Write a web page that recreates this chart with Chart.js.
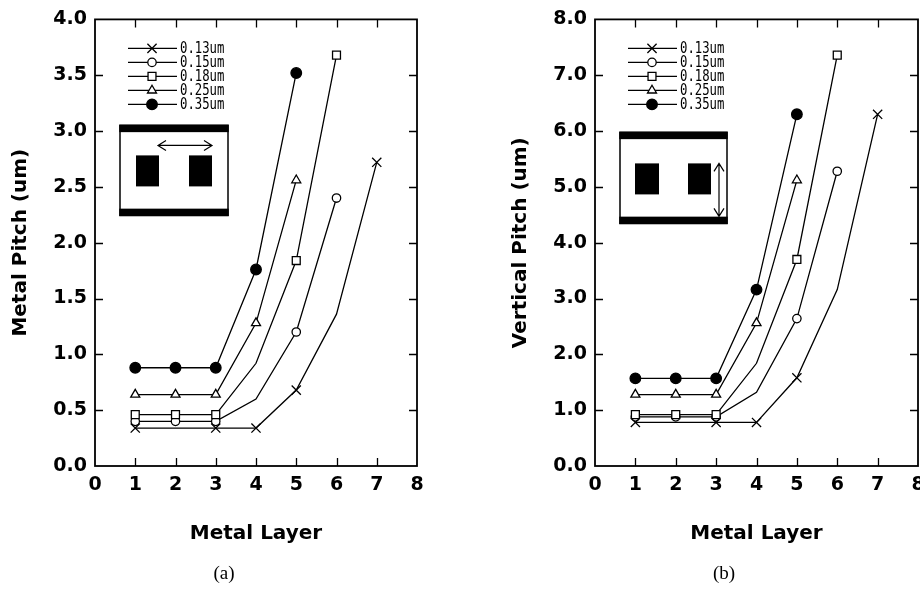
<!DOCTYPE html>
<html>
<head>
<meta charset="utf-8">
<title>Metal / vertical pitch vs metal layer</title>
<script src="https://cdn.jsdelivr.net/npm/chart.js@4.4.0/dist/chart.umd.min.js"></script>
<style>
  html, body { margin: 0; padding: 0; background: #fff; width: 920px; height: 590px; overflow: hidden; }
  .panel { position: absolute; top: 0; height: 590px; }
  #panelA { left: 0; width: 460px; }
  #panelB { left: 460px; width: 480px; }
  .cap { position: absolute; top: 562px; width: 60px; text-align: center;
         font: 19px 'Liberation Serif', 'DejaVu Serif', serif; color: #000; }
</style>
</head>
<body>
<div class="panel" id="panelA"><canvas id="chartA" width="460" height="590"></canvas></div>
<div class="panel" id="panelB"><canvas id="chartB" width="480" height="590"></canvas></div>
<div class="cap" style="left:194px">(a)</div>
<div class="cap" style="left:694px">(b)</div>

<script>
"use strict";

// ---- data ----
const layers = [1, 2, 3, 4, 5, 6, 7];
const sizeLabels = ["0.13um", "0.15um", "0.18um", "0.25um", "0.35um"];

// (a) metal pitch (um)
const pitch013 = [0.34, 0.34, 0.34, 0.34, 0.68, 1.36, 2.72];
const pitch015 = [0.40, 0.40, 0.40, 0.60, 1.20, 2.40];
const pitch018 = [0.46, 0.46, 0.46, 0.92, 1.84, 3.68];
const pitch025 = [0.64, 0.64, 0.64, 1.28, 2.56];
const pitch035 = [0.88, 0.88, 0.88, 1.76, 3.52];

// (b) vertical pitch (um)
const vert013 = [0.78, 0.78, 0.78, 0.78, 1.58, 3.16, 6.30];
const vert015 = [0.88, 0.88, 0.88, 1.32, 2.64, 5.28];
const vert018 = [0.92, 0.92, 0.92, 1.84, 3.70, 7.36];
const vert025 = [1.28, 1.28, 1.28, 2.56, 5.12];
const vert035 = [1.57, 1.57, 1.57, 3.16, 6.30];

// ---- marker styles, one per feature size ----
const MARKS = [
  { style: "crossRot", r: 6.5, fill: "#000", skip: [1, 5] },
  { style: "circle",   r: 4.2, fill: "#fff", skip: [3] },
  { style: "rect",     r: 5.6, fill: "#fff", skip: [3] },
  { style: "triangle", r: 5.2, fill: "#fff", skip: [] },
  { style: "circle",   r: 5.3, fill: "#000", skip: [] }
];

const FONT = "'DejaVu Sans', 'Liberation Sans', sans-serif";

function toPoints(vals) {
  return vals.map((v, i) => ({ x: layers[i], y: v }));
}

function buildDatasets(seriesList) {
  return seriesList.map((vals, i) => {
    const m = MARKS[i];
    return {
      label: sizeLabels[i],
      data: toPoints(vals),
      borderColor: "#000",
      borderWidth: 1.3,
      tension: 0,
      fill: false,
      pointStyle: m.style,
      markRadius: m.r,
      pointRadius: ctx => m.skip.includes(ctx.dataIndex) ? 0 : m.r,
      pointHoverRadius: m.r,
      pointBackgroundColor: m.fill,
      pointBorderColor: "#000",
      pointBorderWidth: 1.3,
      order: i === 2 ? 0 : 1
    };
  });
}

// frame with inward ticks, inset legend and the little cross-section sketch
const decorPlugin = {
  id: "decor",
  afterDatasetsDraw(chart, args, o) {
    const ctx = chart.ctx, a = chart.chartArea;
    const xs = chart.scales.x, ys = chart.scales.y;
    const L = 8;
    ctx.save();
    ctx.strokeStyle = "#000";
    ctx.lineWidth = 1.3;
    ctx.beginPath();
    xs.ticks.forEach(t => {
      const px = Math.round(xs.getPixelForValue(t.value)) + 0.5;
      if (px <= a.left + 2 || px >= a.right - 2) return;
      ctx.moveTo(px, a.bottom); ctx.lineTo(px, a.bottom - L);
      ctx.moveTo(px, a.top); ctx.lineTo(px, a.top + L);
    });
    ys.ticks.forEach(t => {
      const py = Math.round(ys.getPixelForValue(t.value)) + 0.5;
      if (py <= a.top + 2 || py >= a.bottom - 2) return;
      ctx.moveTo(a.left, py); ctx.lineTo(a.left + L, py);
      ctx.moveTo(a.right, py); ctx.lineTo(a.right - L, py);
    });
    ctx.stroke();
    ctx.lineWidth = 1.8;
    ctx.strokeRect(a.left, a.top, a.right - a.left, a.bottom - a.top);
    ctx.restore();

    drawLegend(chart, a);
    drawInset(ctx, a, o.inset);
  }
};

function drawMark(ctx, ds, x, y) {
  ctx.save();
  ctx.fillStyle = ds.pointBackgroundColor;
  ctx.strokeStyle = "#000";
  ctx.lineWidth = ds.pointBorderWidth;
  Chart.helpers.drawPoint(ctx, {
    pointStyle: ds.pointStyle, radius: ds.markRadius, rotation: 0,
    borderWidth: ds.pointBorderWidth
  }, x, y);
  ctx.restore();
}

function drawLegend(chart, a) {
  const ctx = chart.ctx;
  const rows = [29, 43, 57, 71, 85];
  chart.data.datasets.forEach((ds, i) => {
    const y = a.top + rows[i];
    ctx.save();
    ctx.strokeStyle = "#000";
    ctx.lineWidth = 1.3;
    ctx.beginPath();
    ctx.moveTo(a.left + 33, y); ctx.lineTo(a.left + 82, y);
    ctx.stroke();
    ctx.restore();
    drawMark(ctx, ds, a.left + 57, y);
    ctx.save();
    ctx.fillStyle = "#000";
    ctx.font = "15px 'DejaVu Sans Mono', monospace";
    ctx.textBaseline = "middle";
    ctx.translate(a.left + 85, y + 1);
    ctx.scale(0.82, 1);
    ctx.fillText(ds.label, 0, 0);
    ctx.restore();
  });
}

function arrowHead(ctx, x, y, dx, dy) {
  // open V head pointing along (dx, dy)
  const len = 8, spread = 5;
  const px = -dy, py = dx;
  ctx.moveTo(x - dx * len + px * spread, y - dy * len + py * spread);
  ctx.lineTo(x, y);
  ctx.lineTo(x - dx * len - px * spread, y - dy * len - py * spread);
}

function drawInset(ctx, a, s) {
  const x0 = a.left + s.box[0], y0 = a.top + s.box[1], w = s.box[2], h = s.box[3];
  ctx.save();
  ctx.fillStyle = "#fff";
  ctx.fillRect(x0, y0, w, h);
  ctx.strokeStyle = "#000";
  ctx.lineWidth = 1.5;
  ctx.strokeRect(x0, y0, w, h);
  ctx.fillStyle = "#000";
  ctx.fillRect(x0 - 0.75, y0 - 0.75, w + 1.5, s.bar);
  ctx.fillRect(x0 - 0.75, y0 + h - s.bar + 0.75, w + 1.5, s.bar);
  s.blocks.forEach(b => ctx.fillRect(a.left + b[0], a.top + b[1], b[2], b[3]));
  const [x1, y1, x2, y2] = s.arrow.map((v, i) => v + (i % 2 ? a.top : a.left));
  const d = Math.hypot(x2 - x1, y2 - y1), ux = (x2 - x1) / d, uy = (y2 - y1) / d;
  ctx.lineWidth = 1.2;
  ctx.beginPath();
  ctx.moveTo(x1, y1); ctx.lineTo(x2, y2);
  arrowHead(ctx, x2, y2, ux, uy);
  arrowHead(ctx, x1, y1, -ux, -uy);
  ctx.stroke();
  ctx.restore();
}

function makeChart(canvasId, seriesList, cfg) {
  const tickFont = { family: FONT, size: 19, weight: "bold" };
  const titleFont = { family: FONT, size: 20, weight: "bold" };
  return new Chart(document.getElementById(canvasId), {
    type: "line",
    data: { datasets: buildDatasets(seriesList) },
    plugins: [decorPlugin],
    options: {
      responsive: false,
      animation: false,
      events: [],
      layout: { padding: { left: 0, top: 16, right: cfg.padRight, bottom: 0 } },
      plugins: {
        legend: { display: false },
        tooltip: { enabled: false },
        decor: { inset: cfg.inset }
      },
      scales: {
        x: {
          type: "linear", min: 0, max: 8,
          grid: { display: false, drawTicks: false },
          border: { display: false },
          ticks: { stepSize: 1, padding: 8, color: "#000", font: tickFont, autoSkip: false, maxRotation: 0 },
          title: { display: true, text: "Metal Layer", color: "#000", font: titleFont, padding: { top: 0, bottom: 44 } },
          afterFit: s => { s.height = 124; }
        },
        y: {
          type: "linear", min: 0, max: cfg.yMax,
          grid: { display: false, drawTicks: false },
          border: { display: false },
          ticks: { stepSize: cfg.yStep, padding: 8, color: "#000", font: tickFont, callback: v => v.toFixed(1) },
          title: { display: true, text: cfg.yTitle, color: "#000", font: titleFont, padding: { top: cfg.yTitlePad, bottom: 0 } },
          afterFit: s => { s.width = cfg.yWidth; }
        }
      }
    }
  });
}

function boot() {
  Chart.defaults.color = "#000";
  Chart.defaults.font.family = FONT;

  makeChart("chartA", [pitch013, pitch015, pitch018, pitch025, pitch035], {
    yMax: 4, yStep: 0.5, yTitle: "Metal Pitch (um)", yTitlePad: 9,
    yWidth: 95, padRight: 43,
    inset: {
      box: [25, 106, 108, 90], bar: 7.5,
      blocks: [[41, 136, 23, 31], [94, 136, 23, 31]],
      arrow: [63, 126, 117, 126]
    }
  });

  makeChart("chartB", [vert013, vert015, vert018, vert025, vert035], {
    yMax: 8, yStep: 1, yTitle: "Vertical Pitch (um)", yTitlePad: 49,
    yWidth: 135, padRight: 22,
    inset: {
      box: [25, 113, 107, 91], bar: 7.5,
      blocks: [[40, 144, 24, 31], [93, 144, 23, 31]],
      arrow: [124, 144, 124, 197]
    }
  });
}

document.readyState === "loading"
  ? document.addEventListener("DOMContentLoaded", boot)
  : boot();
</script>
</body>
</html>
